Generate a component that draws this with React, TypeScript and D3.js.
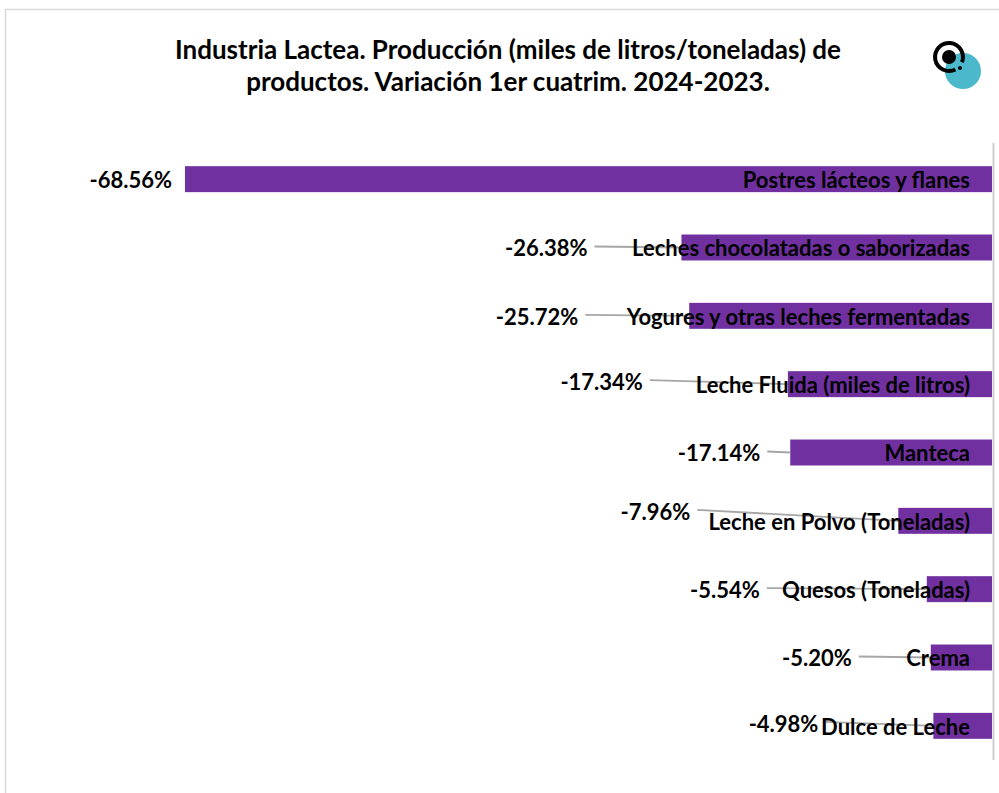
import React, { useEffect, useRef } from 'react';
import * as d3 from 'd3';

// Data
const categories = [
  'Postres lácteos y flanes',
  'Leches chocolatadas o saborizadas',
  'Yogures y otras leches fermentadas',
  'Leche Fluida (miles de litros)',
  'Manteca',
  'Leche en Polvo (Toneladas)',
  'Quesos (Toneladas)',
  'Crema',
  'Dulce de Leche',
];
const variation = [-68.56, -26.38, -25.72, -17.34, -17.14, -7.96, -5.54, -5.2, -4.98];
const valueLabels = ['-68.56%', '-26.38%', '-25.72%', '-17.34%', '-17.14%', '-7.96%', '-5.54%', '-5.20%', '-4.98%'];

// Manual data-label placement (gap left of bar start, vertical shift), as moved in the original
const labelGap = [13, 94, 111, 145, 30, 208, 167, 79, 115];
const labelDy = [0, 0, 0, -3, 0, -10, 0, 0, -3];
const showLeader = [false, true, true, true, true, true, true, true, true];

const titleLines = [
  'Industria Lactea. Producción (miles de litros/toneladas) de',
  'productos. Variación 1er cuatrim. 2024-2023.',
];

const W = 999;
const H = 793;
const FONT = 'Lato, "Open Sans", sans-serif';

const App: React.FC = () => {
  const ref = useRef<SVGSVGElement>(null);

  useEffect(() => {
    if (!ref.current) return;
    const svg = d3.select(ref.current);
    svg.selectAll('*').remove();

    svg.append('rect').attr('width', W).attr('height', H).attr('fill', '#fff');

    // frame of the chart area
    svg.append('path')
      .attr('d', `M5.5,${H} L5.5,9.5 L${W},9.5`)
      .attr('fill', 'none')
      .attr('stroke', '#d9d9d9')
      .attr('stroke-width', 1.5);

    // title
    svg.append('g')
      .selectAll('text')
      .data(titleLines)
      .enter()
      .append('text')
      .attr('x', 508)
      .attr('y', (_, i) => 50 + i * 32)
      .attr('dy', '0.35em')
      .attr('text-anchor', 'middle')
      .style('font-family', FONT)
      .style('font-weight', 'bold')
      .style('font-size', '26px')
      .attr('fill', '#000')
      .text(d => d);

    // logo
    const logo = svg.append('g');
    logo.append('circle').attr('cx', 963).attr('cy', 71).attr('r', 18).attr('fill', '#4bb8cc');
    const ringArc = d3.arc<any>()
      .innerRadius(12)
      .outerRadius(16)
      .startAngle(Math.PI * 0.85)
      .endAngle(Math.PI * 2.62);
    logo.append('path')
      .attr('transform', 'translate(949,57)')
      .attr('d', ringArc({}) as string)
      .attr('fill', '#000');
    logo.append('circle').attr('cx', 949).attr('cy', 57).attr('r', 7).attr('fill', '#000');
    logo.append('circle').attr('cx', 960).attr('cy', 68).attr('r', 2).attr('fill', '#000');

    // scales
    const x = d3.scaleLinear().domain([-70, 0]).range([168, 992]);
    const y = d3.scaleBand<string>()
      .domain(categories)
      .range([145, 760])
      .paddingInner(0.62)
      .paddingOuter(0.31);

    const rows = categories.map((c, i) => ({
      name: c,
      value: variation[i],
      label: valueLabels[i],
      gap: labelGap[i],
      dy: labelDy[i],
      leader: showLeader[i],
    }));

    // bars
    svg.append('g')
      .selectAll('rect')
      .data(rows)
      .enter()
      .append('rect')
      .attr('x', d => x(d.value))
      .attr('y', d => y(d.name)!)
      .attr('width', d => x(0) - x(d.value))
      .attr('height', y.bandwidth())
      .attr('fill', '#7030a0');

    // value axis line at zero
    svg.append('line')
      .attr('x1', x(0) + 1.5)
      .attr('x2', x(0) + 1.5)
      .attr('y1', 143)
      .attr('y2', 760)
      .attr('stroke', '#d0d0d0')
      .attr('stroke-width', 2);

    const cy = (d: any) => y(d.name)! + y.bandwidth() / 2;

    // leader lines
    svg.append('g')
      .selectAll('line')
      .data(rows.filter(d => d.leader))
      .enter()
      .append('line')
      .attr('x1', d => x(d.value) - d.gap + 7)
      .attr('y1', d => cy(d) + d.dy - 1)
      .attr('x2', d => x(d.value))
      .attr('y2', d => cy(d))
      .attr('stroke', '#a6a6a6')
      .attr('stroke-width', 1.8);

    // category labels
    svg.append('g')
      .selectAll('text')
      .data(rows)
      .enter()
      .append('text')
      .attr('x', x(0) - 22)
      .attr('y', d => cy(d) + 1)
      .attr('dy', '0.35em')
      .attr('text-anchor', 'end')
      .style('font-family', FONT)
      .style('font-weight', 'bold')
      .style('font-size', '22px')
      .attr('fill', '#000')
      .text(d => d.name);

    // value labels
    svg.append('g')
      .selectAll('text')
      .data(rows)
      .enter()
      .append('text')
      .attr('x', d => x(d.value) - d.gap)
      .attr('y', d => cy(d) + d.dy + 1)
      .attr('dy', '0.35em')
      .attr('text-anchor', 'end')
      .style('font-family', FONT)
      .style('font-weight', 'bold')
      .style('font-size', '22px')
      .attr('fill', '#000')
      .text(d => d.label);
  }, []);

  return (
    <svg
      ref={ref}
      width={W}
      height={H}
      style={{ position: 'absolute', left: 0, top: 0, display: 'block' }}
    />
  );
};

export default App;
